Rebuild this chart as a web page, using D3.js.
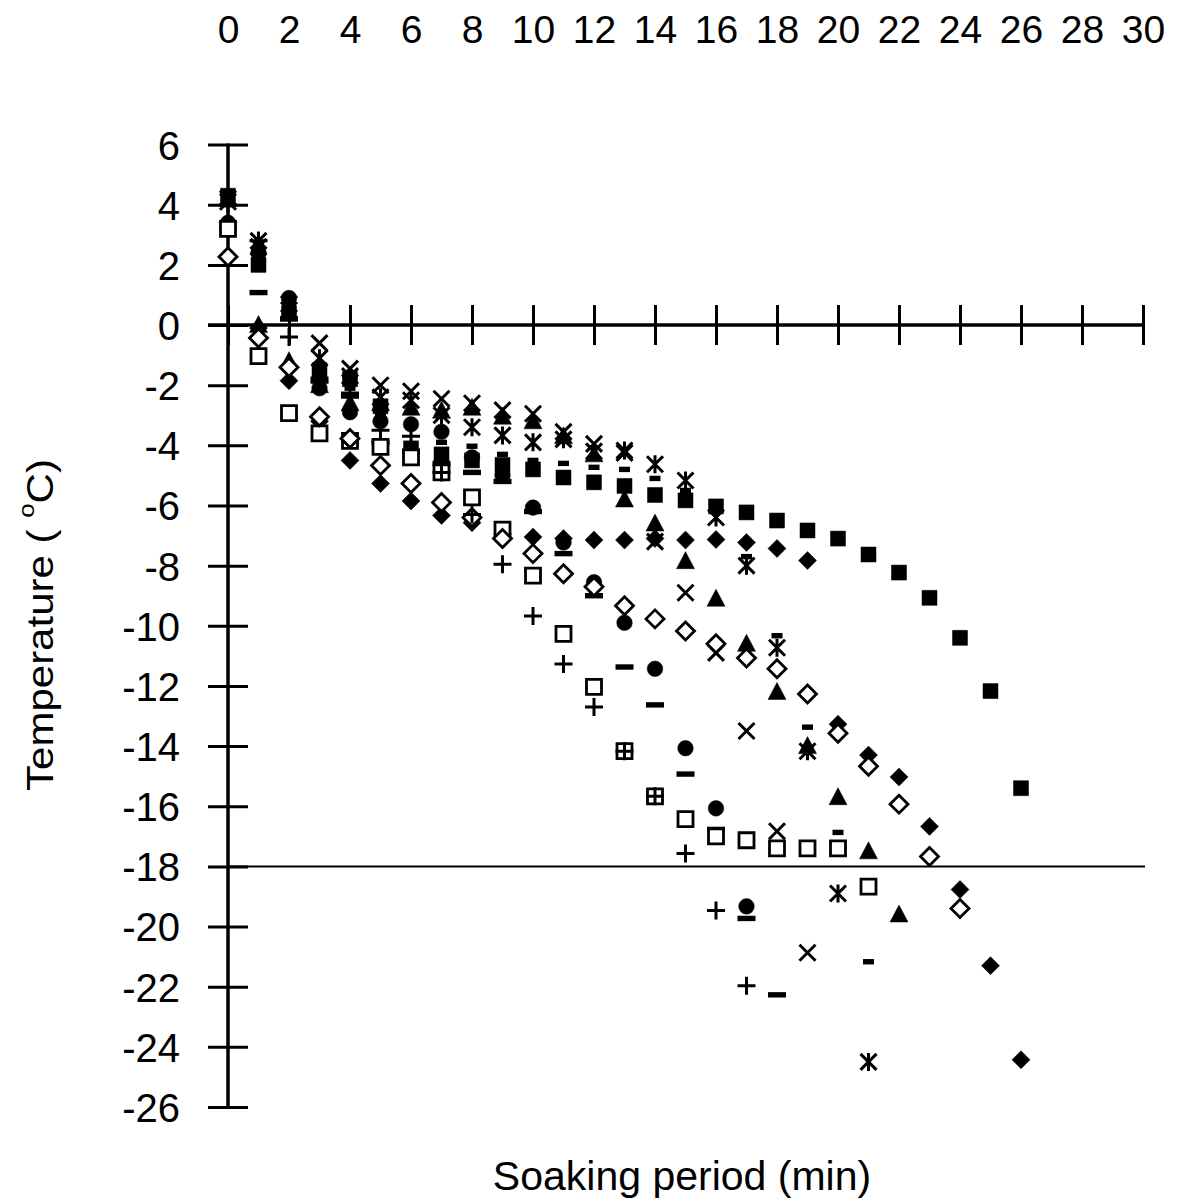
<!DOCTYPE html>
<html>
<head>
<meta charset="utf-8">
<script src="https://cdn.jsdelivr.net/npm/d3@7"></script>
<style>
  html, body { margin: 0; padding: 0; background: #fff; }
  svg { display: block; }
  text { font-family: "Liberation Sans", Arial, Helvetica, sans-serif; fill: #000; }
</style>
</head>
<body>
<svg id="chart" width="1181" height="1202"></svg>
<script>
// ---------------- DATA ----------------
// Soaking period (min); each series starts at minute 0
const minutes = [0,1,2,3,4,5,6,7,8,9,10,11,12,13,14,15,16,17,18,19,20,21,22,23,24,25,26];

const filledSquare   = [4.3, 2.0, 0.4, -1.5, -1.8, -2.7, -4.1, -4.3, -4.5, -4.65, -4.8, -5.07, -5.23, -5.35, -5.65, -5.83, -6.03, -6.23, -6.5, -6.83, -7.1, -7.63, -8.23, -9.07, -10.4, -12.17, -15.4];
const filledDiamond  = [3.4, -0.1, -1.85, -3.2, -4.5, -5.27, -5.85, -6.33, -6.57, -6.95, -7.05, -7.1, -7.15, -7.15, -7.1, -7.15, -7.13, -7.23, -7.43, -7.83, -13.27, -14.3, -15.03, -16.67, -18.77, -21.3, -24.43];
const filledTriangle = [4.2, 0.0, -1.2, -2.0, -2.6, -2.6, -2.75, -2.85, -2.75, -3.05, -3.2, -3.7, -4.3, -5.8, -6.6, -7.85, -9.1, -10.6, -12.2, -14.0, -15.7, -17.5, -19.6];
const crossSeries    = [4.1, 2.6, 0.5, -0.6, -1.45, -2.0, -2.2, -2.45, -2.6, -2.83, -2.95, -3.55, -3.95, -4.25, -7.2, -8.9, -10.9, -13.5, -16.83, -20.87];
const starSeries     = [4.2, 2.8, 0.7, -1.1, -1.7, -2.4, -2.5, -3.0, -3.4, -3.67, -3.9, -3.8, -4.2, -4.17, -4.63, -5.17, -6.4, -8.0, -10.73, -14.17, -18.9, -24.5];
const filledCircle   = [3.4, 2.4, 0.9, -2.1, -2.9, -3.2, -3.3, -3.55, -4.4, -5.0, -6.07, -7.23, -8.55, -9.9, -11.43, -14.07, -16.07, -19.33];
const plusSeries     = [4.0, 2.8, -0.4, -1.9, -2.4, -3.5, -3.7, -4.9, -6.3, -7.95, -9.67, -11.27, -12.7, -14.17, -15.67, -17.57, -19.47, -21.97];
const longDash       = [3.2, 1.08, 0.2, -1.8, -2.3, -3.9, -4.2, -4.6, -4.9, -5.2, -6.2, -7.6, -9.0, -11.37, -12.63, -14.93, -16.77, -19.73, -22.27];
const shortDash      = [4.0, 2.2, 0.4, -1.3, -2.1, -3.0, -3.3, -3.9, -4.03, -4.3, -4.5, -4.6, -4.73, -4.8, -5.1, -5.5, -6.1, -7.7, -10.33, -13.37, -16.87, -21.17];
const openSquare     = [3.2, -1.03, -2.93, -3.6, -3.85, -4.05, -4.4, -4.9, -5.73, -6.8, -8.33, -10.27, -12.03, -14.17, -15.67, -16.43, -17.0, -17.13, -17.4, -17.4, -17.4, -18.67];
const openDiamond    = [2.27, -0.43, -1.4, -3.05, -3.77, -4.67, -5.27, -5.9, -6.4, -7.1, -7.6, -8.27, -8.7, -9.33, -9.77, -10.17, -10.6, -11.07, -11.43, -12.27, -13.57, -14.67, -15.93, -17.67, -19.4];

const xTickValues = [0,2,4,6,8,10,12,14,16,18,20,22,24,26,28,30];
const yTickValues = [6,4,2,0,-2,-4,-6,-8,-10,-12,-14,-16,-18,-20,-22,-24,-26];
const refLineValue = -18;

const xTitle = "Soaking period (min)";
const yTitleMain = "Temperature ( ";
const yTitleSup = "o";
const yTitleEnd = "C)";

// series drawing order (later = on top)
const seriesList = [
  { name: "filledSquare",   values: filledSquare,   shape: "square",   filled: true },
  { name: "filledDiamond",  values: filledDiamond,  shape: "diamond",  filled: true },
  { name: "filledTriangle", values: filledTriangle, shape: "triangle", filled: true },
  { name: "filledCircle",   values: filledCircle,   shape: "circle",   filled: true },
  { name: "cross",          values: crossSeries,    shape: "cross" },
  { name: "star",           values: starSeries,     shape: "star" },
  { name: "longDash",       values: longDash,       shape: "longDash" },
  { name: "shortDash",      values: shortDash,      shape: "shortDash" },
  { name: "openSquare",     values: openSquare,     shape: "square",   filled: false },
  { name: "openDiamond",    values: openDiamond,    shape: "diamond",  filled: false },
  { name: "plus",           values: plusSeries,     shape: "plus" }
];

// ---------------- CHART ----------------
const svg = d3.select("#chart");
const x = d3.scaleLinear().domain([0, 30]).range([228, 1143]);
const y = d3.scaleLinear().domain([-26, 6]).range([1107, 144.6]);

// top tick labels
const topAxis = svg.append("g")
  .attr("transform", "translate(0,43)")
  .call(d3.axisTop(x).tickValues(xTickValues).tickSize(0).tickPadding(0).tickFormat(d => String(d)));
topAxis.select(".domain").remove();
topAxis.selectAll("text").attr("font-size", 39).attr("y", 0).attr("dy", 0)
  .style("font-family", "'Liberation Sans', Arial, sans-serif");

// horizontal axis line at 0 with crossing ticks
const xAxisG = svg.append("g")
  .attr("transform", `translate(0,${y(0)})`)
  .call(d3.axisBottom(x).tickValues(xTickValues).tickSizeOuter(0).tickFormat(""));
xAxisG.select(".domain").attr("stroke", "#000").attr("stroke-width", 3.5)
  .attr("d", `M${x(0) - 20},0H${x(30) + 2}`);
xAxisG.selectAll(".tick line").attr("y1", -20).attr("y2", 20).attr("stroke", "#000").attr("stroke-width", 3);

// vertical axis with crossing ticks and labels
const yAxisG = svg.append("g")
  .attr("transform", `translate(${x(0)},0)`)
  .call(d3.axisLeft(y).tickValues(yTickValues).tickSizeOuter(0).tickFormat(d => String(d)));
yAxisG.select(".domain").attr("stroke", "#000").attr("stroke-width", 3.5)
  .attr("d", `M0,${y(6) - 1}V${y(-26) + 1}`);
yAxisG.selectAll(".tick line").attr("x1", -20).attr("x2", 20).attr("stroke", "#000").attr("stroke-width", 3);
yAxisG.selectAll(".tick text").attr("x", -48).attr("dy", "0.36em").attr("font-size", 40)
  .style("font-family", "'Liberation Sans', Arial, sans-serif").attr("fill", "#000");

// reference line at -18
svg.append("line")
  .attr("x1", x(0)).attr("x2", x(30) + 2)
  .attr("y1", y(refLineValue)).attr("y2", y(refLineValue))
  .attr("stroke", "#000").attr("stroke-width", 2);

// markers
function markerPath(shape) {
  switch (shape) {
    case "square":   return "M-7.5,-7.5H7.5V7.5H-7.5Z";
    case "diamond":  return "M0,-9L9,0L0,9L-9,0Z";
    case "triangle": return "M0,-9.5L9,7.5L-9,7.5Z";
    case "circle":   return "M7.8,0A7.8,7.8 0 1,1 -7.8,0A7.8,7.8 0 1,1 7.8,0Z";
    case "cross":    return "M-8,-8L8,8M8,-8L-8,8";
    case "plus":     return "M-9,0H9M0,-9V9";
    case "star":     return "M-8,-8L8,8M8,-8L-8,8M0,-9V9";
    case "longDash": return "M-9,-2.7H9V2.7H-9Z";
    case "shortDash":return "M-5.5,-2.7H5.5V2.7H-5.5Z";
  }
}

seriesList.forEach(s => {
  const pts = s.values.map((v, i) => ({ t: minutes[i], v }));
  const g = svg.append("g").attr("class", "series " + s.name);
  const isLine = ["cross", "plus", "star"].includes(s.shape);
  const isDash = ["longDash", "shortDash"].includes(s.shape);
  g.selectAll("path").data(pts).enter().append("path")
    .attr("transform", d => `translate(${x(d.t)},${y(d.v)})`)
    .attr("d", markerPath(s.shape))
    .attr("fill", isLine ? "none" : (isDash || s.filled ? "#000" : "#fff"))
    .attr("stroke", isDash ? "none" : "#000")
    .attr("stroke-width", isLine ? 3 : (s.filled ? 0.5 : 2.8));
});

// axis titles
svg.append("text")
  .attr("x", 682).attr("y", 1190)
  .attr("text-anchor", "middle")
  .attr("font-size", 41)
  .text(xTitle);

const yt = svg.append("text")
  .attr("transform", "translate(53,625) rotate(-90) scale(1,0.88)")
  .attr("text-anchor", "middle")
  .attr("font-size", 42);
yt.append("tspan").text(yTitleMain);
yt.append("tspan").attr("font-size", 26).attr("dy", -22).text(yTitleSup);
yt.append("tspan").attr("dy", 22).text(yTitleEnd);
</script>
</body>
</html>
